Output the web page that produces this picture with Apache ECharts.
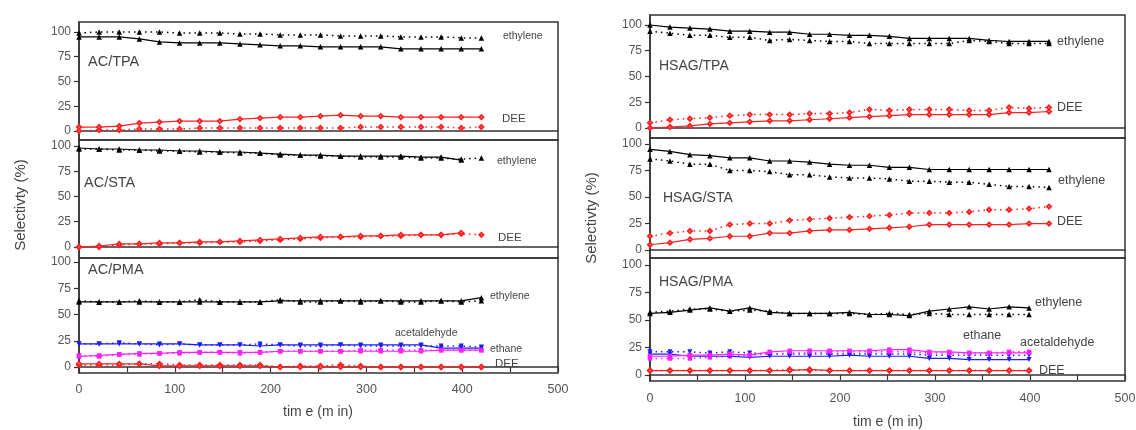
<!DOCTYPE html>
<html><head><meta charset="utf-8">
<script src="https://cdn.jsdelivr.net/npm/echarts@6/dist/echarts.min.js"></script>
<style>html,body{margin:0;padding:0;background:#fff}#c{width:1136px;height:430px}</style>
</head><body><div id="c"></div>
<script>
// ---- data ----
const time = [0,21,42,63,84,105,126,147,168,189,210,231,252,273,294,315,336,357,378,399,420];
const yTicks = [0,25,50,75,100];
const xTicks = [0,100,200,300,400,500];
const panelNames = ["AC/TPA","AC/STA","AC/PMA","HSAG/TPA","HSAG/STA","HSAG/PMA"];

// AC/TPA
const acTpaEthSolid = [95,95,95,93,90,89,89,89,88,87,86,86,85,85,85,85,83,83,83,83,83];
const acTpaEthDot   = [99,100,100,100,100,99,99,99,98,98,97,97,97,96,96,96,95,95,95,94,94];
const acTpaDeeSolid = [4,4,5,8,9,10,10,10,12,13,14,14,15,16,15,15,14,14,14,14,14];
const acTpaDeeDot   = [0,1,1,2,2,2,3,3,3,3,3,3,3,3,4,4,4,4,4,3,4];
// AC/STA
const acStaEthSolid = [98,97,97,96,96,95,95,94,94,93,92,91,91,90,90,90,90,89,89,86];
const acStaEthDot   = [97,97,96,96,95,95,94,94,93,93,91,91,90,90,89,89,89,88,88,87,88];
const acStaDeeSolid = [0,1,3,3,4,4,5,5,6,7,8,9,10,10,11,11,12,12,12,14];
const acStaDeeDot   = [0,0,2,3,3,4,4,5,5,6,7,8,9,10,10,11,11,12,12,13,12];
// AC/PMA
const acPmaEthSolid    = [62,62,62,62,62,62,62,62,62,62,63,63,63,63,63,63,63,63,63,63,66];
const acPmaEthDot      = [63,62,62,63,62,62,64,62,62,62,64,62,62,63,62,63,62,62,63,62,63];
const acPmaEthaneSolid = [22,22,22,22,22,22,21,21,21,20,21,21,21,21,21,21,21,21,18,18,18];
const acPmaEthaneDot   = [22,22,23,22,21,22,21,21,21,22,21,20,20,21,20,20,20,20,20,20,19];
const acPmaAcetSolid   = [10,11,12,13,13,14,14,14,14,14,15,15,15,15,15,15,15,15,16,16,16];
const acPmaAcetDot     = [11,10,12,12,13,13,14,14,13,14,15,15,15,15,16,16,16,16,16,16,16];
const acPmaDeeSolid    = [3,3,3,3,1,1,1,1,1,1,0,0,0,0,0,0,0,0,0,0,0];
const acPmaDeeDot      = [2,2,2,3,3,2,2,2,2,2,0,1,1,2,1,0,0,0,0,0,0];
// HSAG/TPA
const hTpaEthSolid = [100,98,97,96,94,94,93,93,91,91,90,90,89,87,87,87,87,85,84,84,84];
const hTpaEthDot   = [94,92,90,90,88,88,85,86,85,84,84,82,82,82,82,82,85,84,82,82,82];
const hTpaDeeSolid = [0,1,2,4,5,6,7,7,8,9,10,11,12,13,13,13,13,13,15,15,16];
const hTpaDeeDot   = [5,8,9,10,12,13,13,13,14,14,15,18,17,18,18,18,17,17,20,19,20];
// HSAG/STA
const hStaEthSolid = [95,93,90,89,87,87,84,84,83,81,80,80,78,78,76,76,76,76,76,76,76];
const hStaEthDot   = [86,84,81,81,75,75,74,71,71,69,68,68,67,65,65,64,64,62,60,60,59];
const hStaDeeSolid = [5,7,10,11,13,13,16,16,18,19,19,20,21,22,24,24,24,24,24,25,25];
const hStaDeeDot   = [13,16,18,18,24,25,25,28,29,30,31,32,33,35,35,35,36,38,38,39,41];
// HSAG/PMA
const hPmaEthSolid    = [56,57,59,61,58,61,57,56,56,56,57,55,55,54,58,60,62,60,62,61];
const hPmaEthDot      = [57,58,60,60,58,59,58,56,56,56,56,55,56,55,56,55,55,55,55,55];
const hPmaEthaneSolid = [19,19,17,17,17,16,17,17,17,17,18,17,17,17,15,15,14,14,14,14];
const hPmaEthaneDot   = [21,21,21,20,21,20,19,19,19,19,19,19,19,19,18,18,18,18,18,18];
const hPmaAcetSolid   = [17,17,18,18,19,18,21,22,22,22,22,22,23,23,21,21,20,20,20,20];
const hPmaAcetDot     = [15,15,15,16,17,18,19,20,20,21,21,21,21,21,20,20,20,20,21,21];
const hPmaDeeSolid    = [4,4,4,4,4,4,4,4,5,4,4,4,4,4,4,4,4,4,4,4];
const hPmaDeeDot      = [4,4,4,4,4,4,4,5,4,4,4,4,4,4,4,4,4,4,4,4];

// ---- styling / layout ----
const FONT = '"Liberation Sans", Arial, sans-serif';
const C = {eth:'#000000', dee:'#ff2020', ethane:'#1c1cff', acet:'#ff20ff'};
const SYM = {eth:'triangle', dee:'emptyDiamond', ethane:'triangle', acet:'rect'};
const SIZE = {eth:5.5, dee:4, ethane:5, acet:4.5};
const grids = [
  {left:79, right:578, top:22,  bottom:290, min:-9.1,  max:110.1},
  {left:79, right:578, top:140, bottom:172, min:-10.9, max:105.9},
  {left:79, right:578, top:258, bottom:57,  min:-5.7,  max:103.8},
  {left:650, right:11, top:15,  bottom:292, min:-9.7,  max:109.7},
  {left:650, right:11, top:138, bottom:172, min:-7.5,  max:105.7},
  {left:650, right:11, top:258, bottom:49,  min:-5.5,  max:106.4}
];
const isBottom = [false,false,true,false,false,true];

function mk(g, arr, kind, dotted){
  const data = arr.map((v,i)=>[time[i], v]);
  return {
    type:'line', xAxisIndex:g, yAxisIndex:g, data, animation:false,
    symbol: SYM[kind], symbolSize: SIZE[kind],
    symbolRotate: kind==='ethane'?180:0,
    showAllSymbol:true,
    itemStyle:{color:C[kind], borderColor:C[kind], borderWidth: kind==='dee'?1:0},
    lineStyle:{color:C[kind], width: dotted?1.5:1.2, type: dotted?[1.5,4]:'solid'},
    z: dotted?3:4
  };
}

const series = [
  mk(0,acTpaEthDot,'eth',true), mk(0,acTpaEthSolid,'eth',false),
  mk(0,acTpaDeeDot,'dee',true), mk(0,acTpaDeeSolid,'dee',false),
  mk(1,acStaEthDot,'eth',true), mk(1,acStaEthSolid,'eth',false),
  mk(1,acStaDeeDot,'dee',true), mk(1,acStaDeeSolid,'dee',false),
  mk(2,acPmaEthDot,'eth',true), mk(2,acPmaEthSolid,'eth',false),
  mk(2,acPmaEthaneDot,'ethane',true), mk(2,acPmaEthaneSolid,'ethane',false),
  mk(2,acPmaAcetDot,'acet',true), mk(2,acPmaAcetSolid,'acet',false),
  mk(2,acPmaDeeDot,'dee',true), mk(2,acPmaDeeSolid,'dee',false),
  mk(3,hTpaEthDot,'eth',true), mk(3,hTpaEthSolid,'eth',false),
  mk(3,hTpaDeeDot,'dee',true), mk(3,hTpaDeeSolid,'dee',false),
  mk(4,hStaEthDot,'eth',true), mk(4,hStaEthSolid,'eth',false),
  mk(4,hStaDeeDot,'dee',true), mk(4,hStaDeeSolid,'dee',false),
  mk(5,hPmaEthDot,'eth',true), mk(5,hPmaEthSolid,'eth',false),
  mk(5,hPmaEthaneDot,'ethane',true), mk(5,hPmaEthaneSolid,'ethane',false),
  mk(5,hPmaAcetDot,'acet',true), mk(5,hPmaAcetSolid,'acet',false),
  mk(5,hPmaDeeDot,'dee',true), mk(5,hPmaDeeSolid,'dee',false)
];

const gridOpt = grids.map(g=>({left:g.left, right:g.right, top:g.top, bottom:g.bottom,
  outerBoundsMode:'none', containLabel:false,
  show:true, borderColor:'#333', borderWidth:1.5, backgroundColor:'transparent'}));

const xAxes = grids.map((g,i)=>({
  type:'value', gridIndex:i, min:0, max:500, interval:50,
  axisLine:{show:true, lineStyle:{color:'#333', width:1.5}},
  axisTick:{show:isBottom[i], length:5, lineStyle:{color:'#333', width:1.2}},
  axisLabel:{show:isBottom[i], margin: i===2?10:11, color:'#555', fontSize:12.5, fontFamily:FONT,
    hideOverlap:false, formatter:v=> xTicks.includes(v)? String(v):''},
  splitLine:{show:false}
}));
const yAxes = grids.map((g,i)=>({
  type:'value', gridIndex:i, min:g.min, max:g.max,
  axisLine:{show:true, lineStyle:{color:'#333', width:1.5}},
  axisTick:{show:true, length:5, customValues:yTicks, lineStyle:{color:'#333', width:1.2}},
  axisLabel:{show:true, customValues:yTicks, margin:8, color:'#555', fontSize:12, fontFamily:FONT},
  splitLine:{show:false}
}));

function txt(x,y,t,size,opts){
  return Object.assign({type:'text', x, y, z:100, style:{text:t, fill:'#444',
    font: size+'px '+FONT, textAlign:'left', textVerticalAlign:'middle'}}, opts||{});
}
const graphics = [
  txt(88,62,panelNames[0],14.5), txt(84,183,panelNames[1],14.5), txt(88,270,panelNames[2],14.5),
  txt(659,66,panelNames[3],14), txt(663,198,panelNames[4],14), txt(659,282,panelNames[5],14),
  txt(503,36,'ethylene',10.5), txt(502,119,'DEE',11.5),
  txt(497,161,'ethylene',10.5), txt(498,238,'DEE',11.5),
  txt(490,296,'ethylene',10.5), txt(395,333,'acetaldehyde',10.5), txt(490,349,'ethane',10.5), txt(495,364,'DEE',11.5),
  txt(1057,42,'ethylene',12.5), txt(1057,108,'DEE',12.5),
  txt(1058,181,'ethylene',12.5), txt(1057,222,'DEE',12.5),
  txt(1035,303,'ethylene',12.5), txt(963,336,'ethane',12.5), txt(1020,343,'acetaldehyde',12.5), txt(1039,371,'DEE',12.5),
  {type:'text', x:318, y:412, z:100, style:{text:'tim e (m in)', fill:'#444', font:'14px '+FONT, textAlign:'center', textVerticalAlign:'middle'}},
  {type:'text', x:888, y:422, z:100, style:{text:'tim e (m in)', fill:'#444', font:'14px '+FONT, textAlign:'center', textVerticalAlign:'middle'}},
  {type:'text', x:21, y:205, rotation:Math.PI/2, z:100, style:{text:'Selectivty (%)', fill:'#444', font:'15px '+FONT, textAlign:'center', textVerticalAlign:'middle'}},
  {type:'text', x:592, y:218, rotation:Math.PI/2, z:100, style:{text:'Selectivty (%)', fill:'#444', font:'15px '+FONT, textAlign:'center', textVerticalAlign:'middle'}}
];

const chart = echarts.init(document.getElementById('c'), null, {renderer:'canvas'});
chart.setOption({
  animation:false, backgroundColor:'#fff',
  grid:gridOpt, xAxis:xAxes, yAxis:yAxes, series, graphic:graphics
});
</script></body></html>
